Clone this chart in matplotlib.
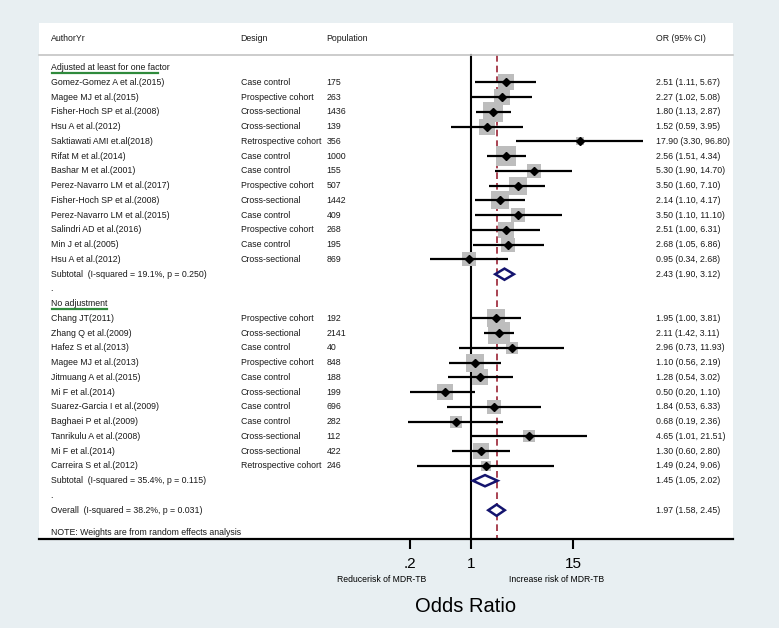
import numpy as np
import matplotlib
matplotlib.use("Agg")
import matplotlib.pyplot as plt
import matplotlib.transforms as mtransforms
from matplotlib.patches import Polygon

plt.rcParams['font.family'] = ['Liberation Sans', 'DejaVu Sans']

# ---------------- data ----------------
g1_authors = ["Gomez-Gomez A et al.(2015)", "Magee MJ et al.(2015)", "Fisher-Hoch SP et al.(2008)",
              "Hsu A et al.(2012)", "Saktiawati AMI et.al(2018)", "Rifat M et al.(2014)",
              "Bashar M et al.(2001)", "Perez-Navarro LM et al.(2017)", "Fisher-Hoch SP et al.(2008)",
              "Perez-Navarro LM et al.(2015)", "Salindri AD et al.(2016)", "Min J et al.(2005)",
              "Hsu A et al.(2012)"]
g1_design = ["Case control", "Prospective cohort", "Cross-sectional", "Cross-sectional",
             "Retrospective cohort", "Case control", "Case control", "Prospective cohort",
             "Cross-sectional", "Case control", "Prospective cohort", "Case control", "Cross-sectional"]
g1_pop = [175, 263, 1436, 139, 356, 1000, 155, 507, 1442, 409, 268, 195, 869]
g1_or = [2.51, 2.27, 1.80, 1.52, 17.90, 2.56, 5.30, 3.50, 2.14, 3.50, 2.51, 2.68, 0.95]
g1_lo = [1.11, 1.02, 1.13, 0.59, 3.30, 1.51, 1.90, 1.60, 1.10, 1.10, 1.00, 1.05, 0.34]
g1_hi = [5.67, 5.08, 2.87, 3.95, 96.80, 4.34, 14.70, 7.10, 4.17, 11.10, 6.31, 6.86, 2.68]
g1_wt = [4.1, 4.0, 6.0, 3.75, 0.8, 6.0, 3.0, 4.8, 4.8, 2.8, 3.75, 3.3, 2.8]
g1_sub = (2.43, 1.90, 3.12)
g1_het = "Subtotal  (I-squared = 19.1%, p = 0.250)"

g2_authors = ["Chang JT(2011)", "Zhang Q et al.(2009)", "Hafez S et al.(2013)", "Magee MJ et al.(2013)",
              "Jitmuang A et al.(2015)", "Mi F et al.(2014)", "Suarez-Garcia I et al.(2009)",
              "Baghaei P et al.(2009)", "Tanrikulu A et al.(2008)", "Mi F et al.(2014)",
              "Carreira S et al.(2012)"]
g2_design = ["Prospective cohort", "Cross-sectional", "Case control", "Prospective cohort",
             "Case control", "Cross-sectional", "Case control", "Case control", "Cross-sectional",
             "Cross-sectional", "Retrospective cohort"]
g2_pop = [192, 2141, 40, 848, 188, 199, 696, 282, 112, 422, 246]
g2_or = [1.95, 2.11, 2.96, 1.10, 1.28, 0.50, 1.84, 0.68, 4.65, 1.30, 1.49]
g2_lo = [1.00, 1.42, 0.73, 0.56, 0.54, 0.20, 0.53, 0.19, 1.01, 0.60, 0.24]
g2_hi = [3.81, 3.11, 11.93, 2.19, 3.02, 1.10, 6.33, 2.36, 21.51, 2.80, 9.06]
g2_wt = [5.4, 7.3, 2.0, 4.8, 4.3, 4.3, 2.8, 2.4, 2.0, 4.3, 1.35]
g2_sub = (1.45, 1.05, 2.02)
g2_het = "Subtotal  (I-squared = 35.4%, p = 0.115)"

overall = (1.97, 1.58, 2.45)
overall_het = "Overall  (I-squared = 38.2%, p = 0.031)"

group_titles = ["Adjusted at least for one factor", "No adjustment"]
headers = ["AuthorYr", "Design", "Population", "OR (95% CI)"]
tick_vals = [0.2, 1, 15]
tick_labels = [".2", "1", "15"]
note = "NOTE: Weights are from random effects analysis"

# ---------------- figure ----------------
W, H = 779, 628
bg = "#e8eff2"
fig = plt.figure(figsize=(W / 100, H / 100), dpi=100, facecolor=bg)
L, R, T, B = 39, 733, 23, 539
ax = fig.add_axes([L / W, 1 - B / H, (R - L) / W, (B - T) / H])
ax.set_facecolor("white")

x0_px = 471.0
ppl = 37.7  # pixels per ln unit
ax.set_xscale("log")
ax.set_xlim(np.exp((L - x0_px) / ppl), np.exp((R - x0_px) / ppl))
row0_px, rowh = 67.7, 14.75
ax.set_ylim((B - row0_px) / rowh, (T - row0_px) / rowh)

for s in ["top", "left", "right"]:
    ax.spines[s].set_visible(False)
ax.spines["bottom"].set_linewidth(1.6)
ax.set_yticks([])
ax.set_xticks(tick_vals)
ax.set_xticklabels(tick_labels, fontsize=11)
ax.xaxis.set_minor_locator(matplotlib.ticker.NullLocator())
ax.tick_params(axis="x", length=7, width=1.5, pad=6)

tr = mtransforms.blended_transform_factory(ax.transAxes, ax.transData)
col_x = [(50.7 - L) / (R - L), (240.7 - L) / (R - L), (326.7 - L) / (R - L), (656 - L) / (R - L)]
fs = 6.3
tcol = "#1a1a1a"

# header
hdr_row = -2.0
for cx, h in zip(col_x, headers):
    ax.text(cx, hdr_row, h, transform=tr, fontsize=fs, va="center", ha="left", color=tcol)
line_row = (55 - row0_px) / rowh
ax.plot([0, 1], [line_row, line_row], transform=tr, color="#c4c4c4", lw=1.2, clip_on=False)

# reference lines
ymax = (B - row0_px) / rowh
ax.plot([1, 1], [line_row, ymax], color="black", lw=1.5, zorder=1)
ax.plot([overall[0], overall[0]], [line_row, ymax], color="#9b2335", lw=1.2,
        ls=(0, (4, 2.4)), zorder=1)

def fmt(o, l, h):
    return f"{o:.2f} ({l:.2f}, {h:.2f})"

def diamond(row, o, l, h):
    d = 0.38
    poly = Polygon([[l, row], [o, row - d], [h, row], [o, row + d]], closed=True,
                   facecolor="white", edgecolor="#14146e", lw=1.8, zorder=4)
    ax.add_patch(poly)

fig.canvas.draw()
renderer = fig.canvas.get_renderer()
axbb = ax.get_window_extent(renderer=renderer)

def underline(txt, row, frac):
    bb = txt.get_window_extent(renderer=renderer)
    xa = (bb.x0 + 1 - axbb.x0) / axbb.width
    xb = (bb.x0 + frac * bb.width - axbb.x0) / axbb.width
    ax.plot([xa, xb], [row + 0.33, row + 0.33], transform=tr, color="#2f8a3c", lw=1.6)

groups = [
    (group_titles[0], 0.9, g1_authors, g1_design, g1_pop, g1_or, g1_lo, g1_hi, g1_wt, g1_sub, g1_het),
    (group_titles[1], 1.0, g2_authors, g2_design, g2_pop, g2_or, g2_lo, g2_hi, g2_wt, g2_sub, g2_het),
]
row = 0
for title, frac, au, de, po, orr, lo, hi, wt, sub, het in groups:
    t = ax.text(col_x[0], row, title, transform=tr, fontsize=fs, va="center", ha="left", color=tcol)
    underline(t, row, frac)
    row += 1
    for a, d, p, o, l, h, w in zip(au, de, po, orr, lo, hi, wt):
        ax.text(col_x[0], row, a, transform=tr, fontsize=fs, va="center", color=tcol)
        ax.text(col_x[1], row, d, transform=tr, fontsize=fs, va="center", color=tcol)
        ax.text(col_x[2], row, str(p), transform=tr, fontsize=fs, va="center", color=tcol)
        ax.text(col_x[3], row, fmt(o, l, h), transform=tr, fontsize=fs, va="center", color=tcol)
        side_pt = np.sqrt(w * 66) * 0.72
        ax.scatter([o], [row], marker="s", s=side_pt ** 2, color="#bdbdbd", linewidths=0, zorder=2)
        ax.plot([l, h], [row, row], color="black", lw=1.6, zorder=3, solid_capstyle="butt")
        ax.plot([o], [row], marker="D", ms=4.2, color="black", zorder=3.5)
        row += 1
    ax.text(col_x[0], row, het, transform=tr, fontsize=fs, va="center", color=tcol)
    ax.text(col_x[3], row, fmt(*sub), transform=tr, fontsize=fs, va="center", color=tcol)
    diamond(row, *sub)
    row += 1
    ax.text(col_x[0], row, ".", transform=tr, fontsize=fs, va="center", color=tcol)
    row += 1

ax.text(col_x[0], row, overall_het, transform=tr, fontsize=fs, va="center", color=tcol)
ax.text(col_x[3], row, fmt(*overall), transform=tr, fontsize=fs, va="center", color=tcol)
diamond(row, *overall)
ax.text(col_x[0], row + 1.5, note, transform=tr, fontsize=fs, va="center", color=tcol)

# axis annotations
fig.text(382 / W, 1 - 579 / H, "Reducerisk of MDR-TB", fontsize=6.2, ha="center", va="center")
fig.text(557 / W, 1 - 579 / H, "Increase risk of MDR-TB", fontsize=6.2, ha="center", va="center")
fig.text(466 / W, 1 - 607 / H, "Odds Ratio", fontsize=14.5, ha="center", va="center")

fig.savefig("out.png", dpi=100, facecolor=bg)
